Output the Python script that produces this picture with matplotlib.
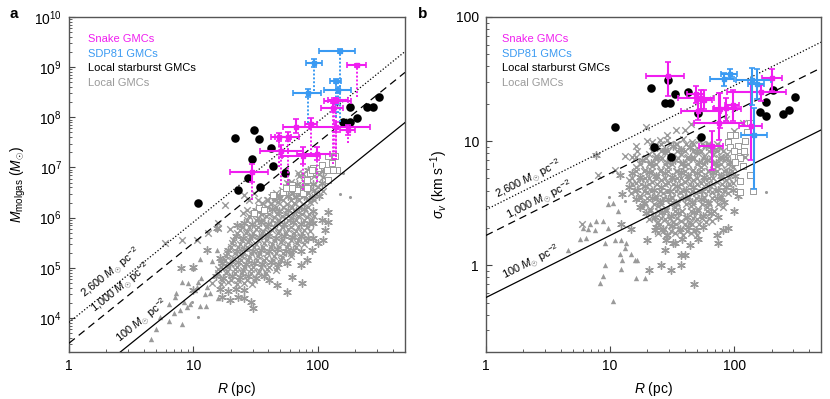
import matplotlib.pyplot as plt
import numpy as np
from matplotlib.ticker import FixedLocator, FixedFormatter, LogLocator, NullFormatter

plt.rcParams['font.family'] = ['Liberation Sans', 'DejaVu Sans']
plt.rcParams['mathtext.fontset'] = 'custom'
plt.rcParams['mathtext.rm'] = 'Liberation Sans'
plt.rcParams['mathtext.it'] = 'Liberation Sans:italic'
plt.rcParams['mathtext.bf'] = 'Liberation Sans:bold'

MAG = '#f01ef0'
BLUE = '#3a9af2'
GRAY = '#9a9a9a'

# ---------------- panel a data: R (pc), M (Msun) ----------------
snake_a_R = [29.5, 48.9, 57.7, 50.4, 66.6, 87.6, 76.0, 97.5, 139, 173, 135, 140, 133, 205]
snake_a_Rlo = [19.6, 41.6, 45.0, 34.0, 52.0, 78.0, 51.0, 67.5, 88.7, 150, 112, 120, 106, 170]
snake_a_Rhi = [39.8, 61.3, 71.0, 76.0, 85.0, 98.0, 104, 124, 261, 200, 183, 175, 160, 243]
snake_a_M = [8.1e6, 4.0e7, 4.1e7, 2.1e7, 6.5e7, 7.5e7, 1.66e7, 1.9e7, 6.3e7, 5.6e7, 2.16e8, 2.2e8, 1.57e8, 1.08e9]
snake_a_Mlo = [5.2e6, 3.3e7, 3.3e7, 1.6e7, 4.8e7, 6.3e7, 1.2e7, 1.4e7, 5.0e7, 4.5e7, 1.9e8, 1.95e8, 1.3e8, 1.0e9]
snake_a_Mhi = [1.15e7, 4.8e7, 5.2e7, 2.8e7, 9.1e7, 9.5e7, 2.6e7, 2.6e7, 7.9e7, 7.1e7, 2.4e8, 2.45e8, 1.9e8, 1.16e9]
snake_a_Mmin = [2.2e6, 1.0e7, 4.5e6, 4.5e6, 4.8e7, 1.9e7, 3.5e6, 5.2e6, 1.4e7, 3.1e7, 1.4e7, 1.6e7, 1.2e7, 2.5e8]

sdp_a_R = [150, 92.9, 139, 83.6, 146]
sdp_a_Rlo = [102, 80, 126, 63.4, 112]
sdp_a_Rhi = [198, 107, 152, 105, 184]
sdp_a_M = [2.12e9, 1.22e9, 5.3e8, 3.1e8, 3.5e8]
sdp_a_Mlo = [1.95e9, 1.0e9, 4.9e8, 2.6e8, 3.0e8]
sdp_a_Mhi = [2.3e9, 1.45e9, 5.7e8, 3.7e8, 4.0e8]
sdp_a_Mmin = [8.0e7, 3.3e8, 1.0e8, 7.8e7, 1.2e8]

burst_a_R = [21.7, 30.6, 33.4, 42.2, 29.7, 43.3, 54, 27.6, 34.2, 22.6, 10.8, 180, 158, 180, 206, 246, 278, 311]
burst_a_M = [3.86e7, 5.5e7, 3.7e7, 2.5e7, 1.47e7, 1.08e7, 7.9e6, 6.3e6, 4.0e6, 3.5e6, 1.97e6,
             1.58e8, 7.9e7, 7.9e7, 9.9e7, 1.58e8, 1.58e8, 2.5e8]

# local GMCs, (log10 R, log10 M)
loc_a_tri = [(0.66, 3.59), (0.70, 3.79), (0.80, 3.95), (0.84, 4.09), (0.91, 3.89), (0.80, 4.28), (0.85, 4.42),
             (0.89, 4.16), (0.92, 4.32), (0.97, 4.28), (1.05, 4.24), (1.10, 4.24), (1.13, 4.50), (1.09, 4.48),
             (1.06, 4.79), (1.03, 4.62), (1.01, 4.56), (1.04, 4.72), (1.11, 4.62), (1.20, 4.39), (0.91, 4.72),
             (1.00, 4.99), (1.05, 5.18), (1.15, 5.14), (1.19, 5.36), (1.21, 5.16), (1.26, 5.06), (0.96, 4.69),
             (0.86, 4.49), (0.73, 4.02), (0.95, 4.22)]
loc_a_star = [(1.48, 4.19), (1.46, 4.32), (1.41, 4.39), (1.36, 4.42), (1.29, 4.36), (1.23, 4.42), (1.75, 4.52),
              (1.87, 4.69), (1.67, 4.66), (1.95, 5.36), (1.96, 5.59), (2.04, 5.56), (2.06, 5.75), (2.08, 5.92),
              (1.91, 5.16), (1.86, 5.06), (1.79, 4.82), (1.61, 4.76), (0.90, 4.99), (1.00, 5.01), (1.19, 5.79),
              (1.35, 5.85), (1.11, 5.36), (2.08, 6.12), (1.96, 5.89), (2.03, 5.95), (2.00, 5.49), (1.21, 5.19),
              (1.00, 4.56),
              (1.92, 6.95), (1.98, 6.97), (2.04, 6.93),
              (1.77, 6.70), (1.83, 6.67), (1.90, 6.71), (1.96, 6.68), (2.03, 6.70),
              (1.63, 6.43), (1.69, 6.40), (1.76, 6.44), (1.82, 6.41), (1.89, 6.43), (1.95, 6.40), (2.01, 6.44),
              (1.50, 6.16), (1.56, 6.13), (1.63, 6.17), (1.69, 6.14), (1.76, 6.16), (1.82, 6.13), (1.89, 6.17),
              (1.96, 6.14),
              (1.41, 5.90), (1.47, 5.87), (1.54, 5.91), (1.60, 5.88), (1.67, 5.90), (1.73, 5.87), (1.80, 5.91),
              (1.86, 5.88), (1.93, 5.90),
              (1.34, 5.63), (1.40, 5.60), (1.47, 5.64), (1.53, 5.61), (1.60, 5.63), (1.66, 5.60), (1.73, 5.64),
              (1.79, 5.61), (1.86, 5.63), (1.92, 5.60),
              (1.28, 5.36), (1.35, 5.33), (1.41, 5.37), (1.48, 5.34), (1.54, 5.36), (1.61, 5.33), (1.67, 5.37),
              (1.74, 5.34), (1.80, 5.36), (1.86, 5.33),
              (1.23, 5.10), (1.29, 5.07), (1.36, 5.11), (1.42, 5.08), (1.49, 5.10), (1.55, 5.07), (1.62, 5.11),
              (1.68, 5.08), (1.75, 5.10),
              (1.18, 4.83), (1.24, 4.80), (1.31, 4.84), (1.37, 4.81), (1.44, 4.83), (1.50, 4.80), (1.57, 4.84),
              (1.21, 4.57), (1.28, 4.54), (1.34, 4.58), (1.41, 4.55)]
loc_a_x = [(0.77, 5.49), (0.91, 5.56), (1.03, 5.56), (1.12, 5.69), (1.20, 5.79), (1.25, 6.25), (1.29, 5.77),
           (1.40, 6.09), (1.43, 6.15), (1.45, 6.35), (1.41, 6.46), (1.52, 6.35), (1.60, 6.35), (1.68, 6.45),
           (1.75, 6.69), (1.49, 6.49), (1.78, 6.72), (1.84, 6.89), (1.20, 5.89),
           (1.85, 6.83), (1.91, 6.80), (1.97, 6.84), (2.04, 6.81),
           (1.71, 6.56), (1.78, 6.53), (1.84, 6.57), (1.91, 6.54), (1.97, 6.56), (2.04, 6.53),
           (1.55, 6.30), (1.62, 6.27), (1.68, 6.31), (1.75, 6.28), (1.81, 6.30), (1.88, 6.27), (1.94, 6.31),
           (1.45, 6.03), (1.52, 6.00), (1.58, 6.04), (1.65, 6.01), (1.71, 6.03), (1.78, 6.00), (1.84, 6.04),
           (1.91, 6.01), (1.97, 6.03),
           (1.37, 5.76), (1.43, 5.73), (1.50, 5.77), (1.56, 5.74), (1.63, 5.76), (1.69, 5.73), (1.76, 5.77),
           (1.82, 5.74), (1.89, 5.76), (1.94, 5.73),
           (1.31, 5.50), (1.37, 5.47), (1.44, 5.51), (1.50, 5.48), (1.57, 5.50), (1.63, 5.47), (1.70, 5.51),
           (1.76, 5.48), (1.83, 5.50), (1.89, 5.47),
           (1.26, 5.23), (1.32, 5.20), (1.39, 5.24), (1.45, 5.21), (1.52, 5.23), (1.58, 5.20), (1.65, 5.24),
           (1.71, 5.21), (1.78, 5.23),
           (1.20, 4.97), (1.27, 4.94), (1.33, 4.98), (1.40, 4.95), (1.46, 4.97), (1.53, 4.94), (1.59, 4.98),
           (1.66, 4.95),
           (1.15, 4.70), (1.22, 4.67), (1.28, 4.71), (1.35, 4.68), (1.41, 4.70), (1.47, 4.67)]
# further core points of the dense cloud: (log10 M, [log10 R, ...])
loc_a_mid = [(6.88, [1.88, 1.94, 2.01]),
             (6.62, [1.74, 1.80, 1.87, 1.93, 2.00]),
             (6.49, [1.66, 1.72, 1.79, 1.85, 1.92, 1.98]),
             (6.35, [1.59, 1.65, 1.72, 1.78, 1.85, 1.91, 1.97]),
             (6.22, [1.53, 1.59, 1.66, 1.72, 1.79, 1.85, 1.92]),
             (6.08, [1.48, 1.54, 1.61, 1.67, 1.74, 1.80, 1.87, 1.93]),
             (5.95, [1.43, 1.50, 1.56, 1.63, 1.69, 1.76, 1.82, 1.89, 1.95]),
             (5.82, [1.39, 1.45, 1.52, 1.58, 1.65, 1.71, 1.78, 1.84, 1.91]),
             (5.69, [1.35, 1.42, 1.48, 1.55, 1.61, 1.68, 1.74, 1.81, 1.87]),
             (5.55, [1.32, 1.39, 1.45, 1.52, 1.58, 1.65, 1.71, 1.78, 1.84, 1.90]),
             (5.42, [1.30, 1.36, 1.43, 1.49, 1.56, 1.62, 1.69, 1.75, 1.82]),
             (5.29, [1.27, 1.33, 1.40, 1.46, 1.53, 1.59, 1.66, 1.72, 1.78]),
             (5.15, [1.25, 1.31, 1.38, 1.44, 1.51, 1.57, 1.64, 1.70]),
             (5.02, [1.22, 1.28, 1.35, 1.41, 1.48, 1.54, 1.61, 1.67]),
             (4.89, [1.20, 1.26, 1.33, 1.39, 1.46, 1.52, 1.58]),
             (4.76, [1.23, 1.30, 1.36, 1.43, 1.49])]
loc_a_sq = [(1.64, 6.45), (1.72, 6.52), (1.79, 6.65), (1.83, 6.55), (1.91, 6.75), (1.94, 6.89), (2.00, 6.99),
            (2.03, 7.05), (2.07, 6.95), (2.11, 7.15), (2.15, 6.95), (2.08, 7.22), (2.14, 7.23), (1.53, 6.19),
            (1.57, 6.15), (1.49, 6.09), (1.88, 6.49), (1.96, 6.99), (1.91, 6.59), (2.11, 7.08), (1.95, 6.95),
            (2.08, 6.75), (1.79, 6.59), (1.74, 6.59), (2.12, 6.95)]
loc_a_dot = [(2.18, 6.47), (2.26, 6.41), (2.20, 6.89), (1.04, 4.02), (1.19, 5.75), (0.99, 4.32), (1.53, 6.12)]

# ---------------- panel b data: R (pc), sigma (km/s) ----------------
snake_b_R = [29.1, 49.2, 54.0, 57.5, 50.7, 77.3, 85.6, 75.8, 65.8, 136, 164, 203, 97]
snake_b_Rlo = [19.5, 42, 35, 48, 37, 67, 69, 47.7, 52, 110, 88, 167, 85]
snake_b_Rhi = [39.7, 57, 69, 66, 78, 113, 106, 120, 80.6, 169, 260, 243, 110]
snake_b_s = [33.7, 24.0, 22.3, 21.6, 17.4, 18.0, 18.6, 14.1, 9.1, 13.2, 24.8, 32.3, 19.4]
snake_b_slo = [23.0, 20.4, 18.0, 18.0, 14.9, 12.8, 14.5, 10.3, 5.9, 7.1, 21.0, 25.3, 14.5]
snake_b_shi = [43.2, 28.0, 26.0, 26.0, 20.9, 24.5, 22.3, 24.5, 12.0, 29.6, 28.5, 38.2, 26.0]

sdp_b_R = [92.3, 83.2, 138, 145, 152]
sdp_b_Rlo = [79, 64, 103, 113, 130]
sdp_b_Rhi = [106, 100, 197, 183, 175]
sdp_b_s = [34.8, 31.8, 30.8, 11.1, 29.0]
sdp_b_slo = [32.4, 27.7, 19.7, 4.1, 22.0]
sdp_b_shi = [37.8, 35.5, 38.9, 18.5, 38.0]

burst_b_R = [10.9, 21.5, 29.5, 27.8, 30.6, 33.4, 42.2, 50.7, 54, 22.5, 31, 160, 181, 179, 205, 246, 277, 311]
burst_b_s = [13, 27, 31.3, 20.1, 20.1, 24, 25.1, 16.8, 10.8, 9.0, 7.4, 17.2, 15.8, 20.7, 25.9, 16.5, 17.7, 22.6]

# local GMCs, (log10 R, log10 sigma)
loc_b_tri = [(1.02, -0.29), (0.92, -0.14), (0.94, -0.09), (0.96, 0.00), (0.66, 0.12), (0.76, 0.21), (0.81, 0.22),
             (0.88, 0.28), (0.89, 0.36), (0.94, 0.36), (0.98, 0.49), (1.02, 0.50), (1.06, 0.44), (0.98, 0.30),
             (0.82, 0.29), (1.04, 0.20), (1.09, 0.20), (1.12, 0.14), (1.08, 0.09), (1.10, 0.04), (1.20, 0.04),
             (1.22, 0.04), (1.28, -0.10), (1.21, -0.10), (1.09, -0.03), (1.17, 0.09), (1.13, 0.18), (0.96, 0.18),
             (0.78, 0.30), (0.84, 0.33)]
loc_b_star = [(1.68, -0.15), (1.57, 0.00), (1.41, 0.00), (1.49, -0.04), (1.31, -0.04), (1.57, 0.08), (1.60, 0.08),
              (1.64, 0.16), (1.71, 0.21), (1.87, 0.18), (1.86, 0.24), (1.91, 0.28), (1.95, 0.30), (2.00, 0.44),
              (2.03, 0.56), (1.44, 0.12), (1.51, 0.18), (1.46, 0.24), (1.36, 0.28), (1.30, 0.20), (1.17, 0.29),
              (1.09, 0.33), (1.08, 0.73), (0.89, 0.89), (1.10, 0.57), (1.24, 0.47),
              (1.38, 0.95), (1.44, 0.93), (1.51, 0.96), (1.57, 0.93), (1.64, 0.95), (1.70, 0.92), (1.77, 0.96),
              (1.83, 0.93), (1.88, 0.95),
              (1.26, 0.85), (1.33, 0.82), (1.39, 0.86), (1.46, 0.83), (1.52, 0.85), (1.59, 0.82), (1.65, 0.86),
              (1.72, 0.83), (1.78, 0.85), (1.85, 0.82), (1.91, 0.86), (1.97, 0.83),
              (1.18, 0.74), (1.24, 0.71), (1.31, 0.75), (1.37, 0.72), (1.44, 0.74), (1.50, 0.71), (1.57, 0.75),
              (1.63, 0.72), (1.70, 0.74), (1.76, 0.71), (1.83, 0.75), (1.89, 0.72), (1.96, 0.74), (2.01, 0.72),
              (1.15, 0.63), (1.22, 0.61), (1.28, 0.64), (1.35, 0.61), (1.41, 0.63), (1.48, 0.60), (1.54, 0.64),
              (1.61, 0.61), (1.67, 0.63), (1.74, 0.60), (1.80, 0.64), (1.87, 0.61), (1.93, 0.63), (1.99, 0.61),
              (1.21, 0.53), (1.27, 0.50), (1.34, 0.54), (1.40, 0.51), (1.47, 0.53), (1.53, 0.50), (1.60, 0.54),
              (1.66, 0.51), (1.73, 0.53), (1.79, 0.50), (1.86, 0.54), (1.92, 0.51),
              (1.29, 0.42), (1.36, 0.39), (1.42, 0.43), (1.49, 0.40), (1.55, 0.42), (1.62, 0.39), (1.68, 0.43),
              (1.75, 0.40), (1.81, 0.42), (1.87, 0.39),
              (1.37, 0.31), (1.43, 0.29), (1.50, 0.32), (1.56, 0.29), (1.63, 0.31), (1.69, 0.28), (1.75, 0.31),
              (1.45, 0.20), (1.52, 0.18), (1.58, 0.21)]
loc_b_x = [(0.90, 0.73), (1.04, 0.77), (1.21, 0.87), (1.29, 1.11), (1.34, 0.99), (1.36, 0.95), (1.53, 1.09),
           (1.60, 1.09), (1.65, 1.14), (1.46, 1.05), (1.40, 1.01), (1.21, 0.96), (0.77, 0.33), (2.07, 1.15),
           (2.09, 0.87), (2.00, 1.08), (1.93, 1.18), (1.18, 0.87), (1.12, 0.88), (1.22, 0.92), (1.30, 1.00),
           (1.46, 1.01), (1.53, 0.98), (1.59, 1.02), (1.66, 0.99), (1.72, 1.01), (1.79, 0.98),
           (1.31, 0.90), (1.37, 0.88), (1.44, 0.91), (1.50, 0.88), (1.57, 0.90), (1.63, 0.87), (1.70, 0.91),
           (1.76, 0.88), (1.83, 0.90), (1.89, 0.87), (1.94, 0.90),
           (1.21, 0.79), (1.28, 0.77), (1.34, 0.80), (1.41, 0.77), (1.47, 0.79), (1.54, 0.76), (1.60, 0.80),
           (1.67, 0.77), (1.73, 0.79), (1.80, 0.76), (1.86, 0.80), (1.93, 0.77), (1.99, 0.79),
           (1.15, 0.69), (1.21, 0.66), (1.28, 0.70), (1.34, 0.67), (1.41, 0.69), (1.47, 0.66), (1.54, 0.70),
           (1.60, 0.67), (1.67, 0.69), (1.73, 0.66), (1.80, 0.70), (1.86, 0.67), (1.93, 0.69), (1.99, 0.66),
           (1.17, 0.58), (1.24, 0.56), (1.30, 0.59), (1.37, 0.56), (1.43, 0.58), (1.50, 0.55), (1.56, 0.59),
           (1.63, 0.56), (1.69, 0.58), (1.76, 0.55), (1.82, 0.59), (1.89, 0.56), (1.95, 0.58),
           (1.26, 0.47), (1.32, 0.45), (1.39, 0.48), (1.45, 0.45), (1.52, 0.47), (1.58, 0.44), (1.65, 0.48),
           (1.71, 0.45), (1.78, 0.47), (1.84, 0.44), (1.91, 0.47),
           (1.31, 0.37), (1.38, 0.34), (1.44, 0.37), (1.51, 0.35), (1.57, 0.36), (1.64, 0.34), (1.70, 0.37),
           (1.77, 0.35), (1.82, 0.36),
           (1.39, 0.26), (1.46, 0.24), (1.52, 0.26), (1.59, 0.24), (1.65, 0.26), (1.70, 0.24)]
# further core points of the dense cloud: (log10 sigma, [log10 R, ...])
loc_b_mid = [(0.973, [1.41, 1.48, 1.54, 1.61, 1.67, 1.74, 1.80, 1.86]),
             (0.920, [1.34, 1.41, 1.47, 1.54, 1.60, 1.67, 1.73, 1.80, 1.86, 1.91]),
             (0.866, [1.29, 1.36, 1.42, 1.49, 1.55, 1.62, 1.68, 1.75, 1.81, 1.88, 1.94]),
             (0.813, [1.24, 1.31, 1.37, 1.44, 1.50, 1.57, 1.63, 1.70, 1.76, 1.83, 1.89, 1.95]),
             (0.760, [1.21, 1.27, 1.34, 1.40, 1.47, 1.53, 1.60, 1.66, 1.73, 1.79, 1.86, 1.92, 1.98]),
             (0.706, [1.18, 1.24, 1.31, 1.37, 1.44, 1.50, 1.57, 1.63, 1.70, 1.76, 1.83, 1.89, 1.96]),
             (0.652, [1.18, 1.25, 1.31, 1.38, 1.44, 1.51, 1.57, 1.64, 1.70, 1.77, 1.83, 1.90, 1.96]),
             (0.599, [1.20, 1.27, 1.33, 1.40, 1.46, 1.53, 1.59, 1.66, 1.72, 1.79, 1.85, 1.92]),
             (0.545, [1.24, 1.30, 1.37, 1.43, 1.50, 1.56, 1.63, 1.69, 1.76, 1.82, 1.89]),
             (0.492, [1.28, 1.35, 1.41, 1.48, 1.54, 1.61, 1.67, 1.74, 1.80, 1.87]),
             (0.438, [1.32, 1.39, 1.45, 1.52, 1.58, 1.65, 1.71, 1.78, 1.84]),
             (0.384, [1.35, 1.41, 1.48, 1.54, 1.61, 1.67, 1.74, 1.80]),
             (0.331, [1.40, 1.47, 1.53, 1.60, 1.66, 1.72]),
             (0.277, [1.43, 1.49, 1.56, 1.62, 1.68])]
loc_b_sq = [(2.01, 1.05), (2.09, 1.00), (2.08, 0.92), (2.13, 0.73), (2.15, 0.60), (2.05, 0.59), (2.07, 0.80),
            (2.03, 0.88), (1.95, 0.99), (1.97, 0.95), (2.13, 1.15), (2.03, 0.96), (2.00, 0.92), (2.05, 0.86),
            (2.01, 0.83), (2.05, 0.68), (1.97, 1.05), (2.10, 1.07)]
loc_b_dot = [(2.26, 0.59), (1.12, 0.52), (0.99, 0.55)]

# surface density reference lines (Msun pc^-2)
sigma_levels = [2600, 1000, 100]
level_labels = [r'2,600 $M_{\odot}$ pc$^{-2}$', r'1,000 $M_{\odot}$ pc$^{-2}$', r'100 $M_{\odot}$ pc$^{-2}$']
level_styles = [(0, (1, 1.6)), (0, (6, 4)), '-']

fig = plt.figure(figsize=(8.3, 3.99), dpi=100)
ax1 = fig.add_axes([0.0831, 0.1178, 0.4048, 0.8396])
ax2 = fig.add_axes([0.5855, 0.1178, 0.4036, 0.8396])


def scatter_local(ax, tri, star, xs, mid, sq, dot):
    t = np.array(tri); s = np.array(star); x = np.array(xs); q = np.array(sq); d = np.array(dot)
    m = np.array([(r, y) for y, rs in mid for r in rs])
    ax.scatter(10**t[:, 0], 10**t[:, 1], marker='^', s=15, color=GRAY, lw=0, zorder=1)
    ax.scatter(10**m[:, 0], 10**m[:, 1], marker='x', s=22, color=GRAY, lw=1.0, zorder=1)
    ax.scatter(10**x[:, 0], 10**x[:, 1], marker='x', s=22, color=GRAY, lw=1.0, zorder=1)
    ax.scatter(10**s[:, 0], 10**s[:, 1], marker=(6, 2, 0), s=30, color=GRAY, lw=1.0, zorder=1)
    ax.scatter(10**q[:, 0], 10**q[:, 1], marker='s', s=15, facecolor='white', edgecolor=GRAY, lw=0.7, zorder=1)
    ax.scatter(10**d[:, 0], 10**d[:, 1], marker='o', s=5, color=GRAY, lw=0, zorder=1)


def colored(ax, R, Rlo, Rhi, Y, Ylo, Yhi, color, Ymin=None):
    R = np.array(R); Y = np.array(Y)
    if Ymin is not None:
        ax.vlines(R, Ymin, Ylo, colors=color, linestyles=(0, (1, 1)), lw=1.4, zorder=4)
    ax.errorbar(R, Y, xerr=[R - np.array(Rlo), np.array(Rhi) - R], yerr=[Y - np.array(Ylo), np.array(Yhi) - Y],
                fmt='s', ms=2.5, color=color, elinewidth=1.5, capsize=2.2, capthick=1.2, zorder=5)


def style_axes(ax):
    ax.set_xscale('log')
    ax.set_yscale('log')
    ax.set_xlim(1, 500)
    ax.xaxis.set_major_locator(FixedLocator([1, 10, 100]))
    ax.xaxis.set_major_formatter(FixedFormatter(['1', '10', '100']))
    ax.xaxis.set_minor_locator(LogLocator(base=10, subs=np.arange(2, 10), numticks=20))
    ax.xaxis.set_minor_formatter(NullFormatter())
    ax.tick_params(which='both', direction='in', top=False, right=False, color='#444444', labelsize=10)
    ax.tick_params(which='major', length=4, width=0.8, pad=5)
    ax.tick_params(which='minor', length=2.3, width=0.6)
    for sp in ax.spines.values():
        sp.set_color('#555555')
        sp.set_linewidth(1.0)
    ax.set_xlabel(r'$R$ (pc)', fontsize=10, labelpad=5)


def angle(ax, x0, y0, x1, y1):
    p0 = ax.transData.transform((x0, y0))
    p1 = ax.transData.transform((x1, y1))
    return np.degrees(np.arctan2(p1[1] - p0[1], p1[0] - p0[0]))


def legend_text(ax, x0):
    for yy, txt, c in zip([0.934, 0.890, 0.848, 0.803],
                          ['Snake GMCs', 'SDP81 GMCs', 'Local starburst GMCs', 'Local GMCs'],
                          [MAG, BLUE, 'black', GRAY]):
        ax.text(x0, yy, txt, color=c, fontsize=8, transform=ax.transAxes, va='center', ha='left')


R_line = np.array([1.0, 500.0])

# ---------------- panel a ----------------
style_axes(ax1)
ax1.set_ylim(2.1e3, 1e10)
ax1.yaxis.set_major_locator(LogLocator(base=10, numticks=20))
ax1.yaxis.set_minor_locator(LogLocator(base=10, subs=np.arange(2, 10), numticks=20))
ax1.yaxis.set_minor_formatter(NullFormatter())
ax1.set_ylabel(r'$M_{\rm molgas}$ ($M_{\odot}$)', fontsize=10)

scatter_local(ax1, loc_a_tri, loc_a_star, loc_a_x, loc_a_mid, loc_a_sq, loc_a_dot)
for lev, ls in zip(sigma_levels, level_styles):
    ax1.plot(R_line, lev * np.pi * R_line**2, ls=ls, color='black', lw=0.9, zorder=3)
ax1.scatter(burst_a_R, burst_a_M, s=38, color='black', lw=0, zorder=4)
colored(ax1, snake_a_R, snake_a_Rlo, snake_a_Rhi, snake_a_M, snake_a_Mlo, snake_a_Mhi, MAG, snake_a_Mmin)
colored(ax1, sdp_a_R, sdp_a_Rlo, sdp_a_Rhi, sdp_a_M, sdp_a_Mlo, sdp_a_Mhi, BLUE, sdp_a_Mmin)

rot_a = angle(ax1, 1, 1e4, 10, 1e6)
for (xr, ym), lab in zip([(2.17, 7.9e4), (2.62, 4.0e4), (3.86, 8.7e3)], level_labels):
    ax1.text(xr, ym, lab, rotation=rot_a, rotation_mode='anchor', ha='center', va='center', fontsize=8)
legend_text(ax1, 0.057)

# ---------------- panel b ----------------
style_axes(ax2)
ax2.set_ylim(0.2, 100)
ax2.yaxis.set_major_locator(FixedLocator([1, 10, 100]))
ax2.yaxis.set_major_formatter(FixedFormatter(['1', '10', '100']))
ax2.yaxis.set_minor_locator(LogLocator(base=10, subs=np.arange(2, 10), numticks=20))
ax2.yaxis.set_minor_formatter(NullFormatter())
ax2.set_ylabel(r'$\sigma_{v}$ (km s$^{-1}$)', fontsize=10)

scatter_local(ax2, loc_b_tri, loc_b_star, loc_b_x, loc_b_mid, loc_b_sq, loc_b_dot)
for lev, ls in zip(sigma_levels, level_styles):
    ax2.plot(R_line, np.sqrt(np.pi * lev * R_line / 1040.0), ls=ls, color='black', lw=0.9, zorder=3)
ax2.scatter(burst_b_R, burst_b_s, s=38, color='black', lw=0, zorder=4)
colored(ax2, snake_b_R, snake_b_Rlo, snake_b_Rhi, snake_b_s, snake_b_slo, snake_b_shi, MAG)
colored(ax2, sdp_b_R, sdp_b_Rlo, sdp_b_Rhi, sdp_b_s, sdp_b_slo, sdp_b_shi, BLUE)

rot_b = angle(ax2, 1, 1, 100, 10)
for (xr, ys), lab in zip([(2.19, 4.92), (2.72, 3.3), (2.33, 1.05)], level_labels):
    ax2.text(xr, ys, lab, rotation=rot_b, rotation_mode='anchor', ha='center', va='center', fontsize=8)
legend_text(ax2, 0.048)

fig.text(0.012, 0.965, 'a', fontsize=11, fontweight='bold', va='center')
fig.text(0.504, 0.965, 'b', fontsize=11, fontweight='bold', va='center')

fig.savefig('out.png', dpi=100)
